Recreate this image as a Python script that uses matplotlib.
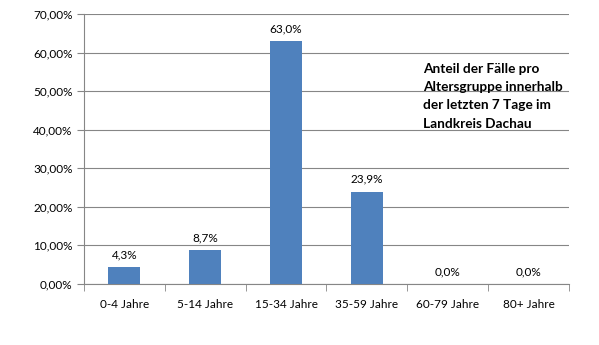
import matplotlib.pyplot as plt
import numpy as np

# Data
categories = ['0-4 Jahre', '5-14 Jahre', '15-34 Jahre', '35-59 Jahre', '60-79 Jahre', '80+ Jahre']
values = [4.3, 8.7, 63.0, 23.9, 0.0, 0.0]
yticks = [0, 10, 20, 30, 40, 50, 60, 70]
note = 'Anteil der Fälle pro\nAltersgruppe innerhalb\nder letzten 7 Tage im\nLandkreis Dachau'

plt.rcParams['font.family'] = ['Lato', 'DejaVu Sans']

fig = plt.figure(figsize=(5.99, 3.45), dpi=100)
ax = fig.add_axes([0.140, 0.177, 0.810, 0.782])

x = np.arange(len(categories))
ax.bar(x, values, width=0.4, color='#4F81BD', zorder=3)

for xi, v in zip(x, values):
    ax.text(xi, v + 1.8, f'{v:.1f}%'.replace('.', ','), ha='center', va='bottom',
            fontsize=8.5, color='#000000')

ax.set_xlim(-0.5, len(categories) - 0.5)
ax.set_ylim(0, 70)
ax.set_yticks(yticks)
ax.set_yticklabels([f'{t:.2f}%'.replace('.', ',') for t in yticks], fontsize=8.5)
ax.set_xticks(x)
ax.set_xticklabels(categories, fontsize=8.5)
ax.set_xticks(np.arange(len(categories) + 1) - 0.5, minor=True)

ax.yaxis.grid(True, color='#868686', linewidth=0.8, zorder=0)
ax.tick_params(axis='x', which='major', length=0, pad=11)
ax.tick_params(axis='x', which='minor', length=5, color='#868686', direction='out')
ax.tick_params(axis='y', length=5, color='#868686', direction='out', pad=3)

for s in ['top', 'right']:
    ax.spines[s].set_visible(False)
for s in ['left', 'bottom']:
    ax.spines[s].set_color('#868686')
    ax.spines[s].set_linewidth(0.8)

fig.text(423 / 599, 1 - 63 / 345, note, ha='left', va='top', fontsize=9.8,
         fontweight='bold', linespacing=1.62)

fig.savefig('out.png', dpi=100)
